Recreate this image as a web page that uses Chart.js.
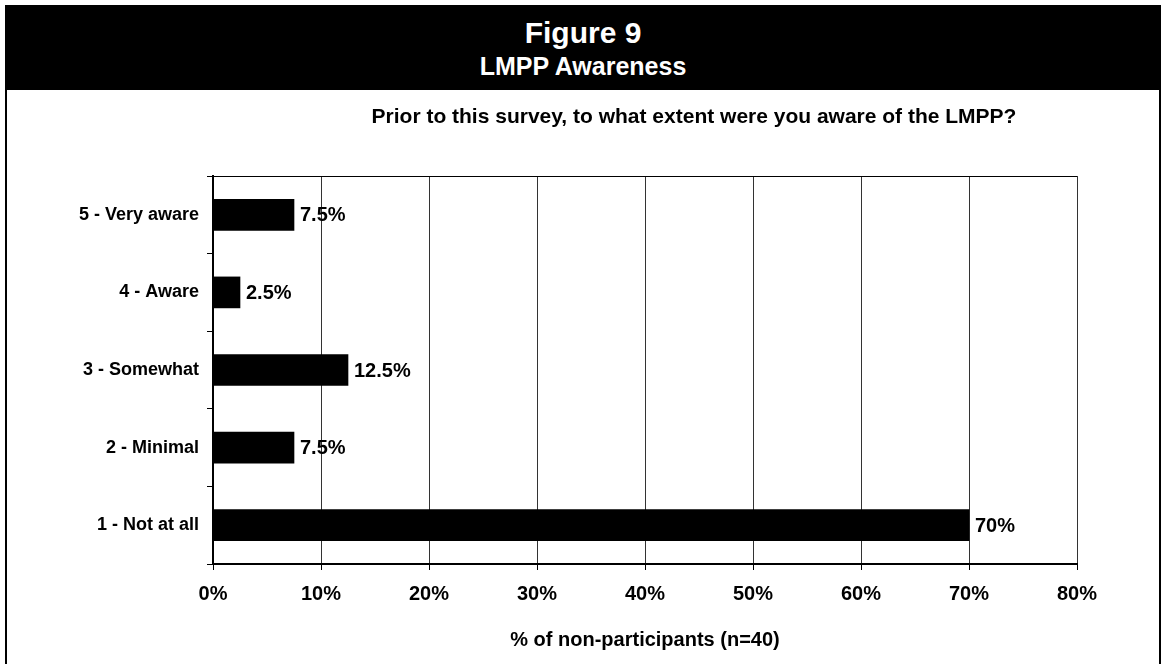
<!DOCTYPE html>
<html>
<head>
<meta charset="utf-8">
<title>Figure 9 - LMPP Awareness</title>
<script src="https://cdn.jsdelivr.net/npm/chart.js@4.4.1/dist/chart.umd.min.js"></script>
<style>
  html, body { margin: 0; padding: 0; background: #fff; }
  body { width: 1164px; height: 664px; position: relative; overflow: hidden;
         font-family: "Liberation Sans", Arial, sans-serif; font-weight: bold; }
  #chartWrap { position: absolute; left: 0; top: 0; width: 1164px; height: 664px; }
  #frame { position: absolute; left: 5px; top: 5px; width: 1152px; height: 659px;
           border-left: 2px solid #000; border-right: 2px solid #000; pointer-events: none; }
  #header { position: absolute; left: 0; top: 0; width: 100%; height: 85px; background: #000; color: #fff; }
  #header .fig { position: absolute; left: 0; right: 0; top: 13px; text-align: center;
                 font-size: 30px; line-height: 30px; }
  #header .name { position: absolute; left: 0; right: 0; top: 49px; text-align: center;
                  font-size: 25px; line-height: 25px; }
  #question { position: absolute; left: 694px; top: 104px; transform: translateX(-50%);
              white-space: nowrap; font-size: 21px; line-height: 24px; color: #000; }
</style>
</head>
<body>
<div id="chartWrap"><canvas id="awarenessChart" width="1164" height="664"></canvas></div>
<div id="frame">
  <div id="header">
    <div class="fig">Figure 9</div>
    <div class="name">LMPP Awareness</div>
  </div>
</div>
<div id="question">Prior to this survey, to what extent were you aware of the LMPP?</div>

<script>
const categories = ['5 - Very aware', '4 - Aware', '3 - Somewhat', '2 - Minimal', '1 - Not at all'];
const shares = [7.5, 2.5, 12.5, 7.5, 70];
const xTicks = [0, 10, 20, 30, 40, 50, 60, 70, 80];

const FONT = '"Liberation Sans", Arial, sans-serif';

// value text at the end of each bar
const barValues = {
  id: 'barValues',
  afterDatasetsDraw(chart) {
    const ctx = chart.ctx;
    const meta = chart.getDatasetMeta(0);
    ctx.save();
    ctx.font = 'bold 20px ' + FONT;
    ctx.fillStyle = '#000';
    ctx.textAlign = 'left';
    ctx.textBaseline = 'middle';
    meta.data.forEach((bar, i) => {
      ctx.fillText(shares[i] + '%', bar.x + 6, bar.y + 1);
    });
    ctx.restore();
  }
};

// closes the plot box along the top
const topEdge = {
  id: 'topEdge',
  beforeDatasetsDraw(chart) {
    const { ctx, chartArea } = chart;
    ctx.save();
    ctx.strokeStyle = '#000';
    ctx.lineWidth = 1;
    ctx.beginPath();
    ctx.moveTo(chartArea.left, chartArea.top + 0.5);
    ctx.lineTo(chartArea.right, chartArea.top + 0.5);
    ctx.stroke();
    ctx.restore();
  }
};

new Chart(document.getElementById('awarenessChart'), {
  type: 'bar',
  data: {
    labels: categories,
    datasets: [{
      data: shares,
      backgroundColor: '#000',
      borderWidth: 0,
      barThickness: 31
    }]
  },
  options: {
    indexAxis: 'y',
    responsive: false,
    animation: false,
    layout: { padding: { left: 8, right: 87, top: 176, bottom: 12 } },
    plugins: {
      legend: { display: false },
      tooltip: { enabled: false }
    },
    scales: {
      x: {
        min: 0,
        max: 80,
        afterBuildTicks(scale) {
          scale.ticks = xTicks.map(v => ({ value: v }));
        },
        grid: { color: '#333', lineWidth: 1, tickLength: 6, tickColor: '#000' },
        border: { color: '#000', width: 2 },
        ticks: {
          color: '#000',
          padding: 12,
          font: { family: FONT, size: 20, weight: 'bold' },
          callback: v => v + '%'
        },
        title: {
          display: true,
          text: '% of non-participants (n=40)',
          color: '#000',
          padding: { top: 10, bottom: 0 },
          font: { family: FONT, size: 20, weight: 'bold' }
        }
      },
      y: {
        afterFit(scale) { scale.width = 205; },
        grid: { drawOnChartArea: false, tickLength: 6, tickColor: '#000' },
        border: { color: '#000', width: 2 },
        ticks: {
          color: '#000',
          padding: 8,
          font: { family: FONT, size: 18, weight: 'bold' }
        }
      }
    }
  },
  plugins: [barValues, topEdge]
});
</script>
</body>
</html>
